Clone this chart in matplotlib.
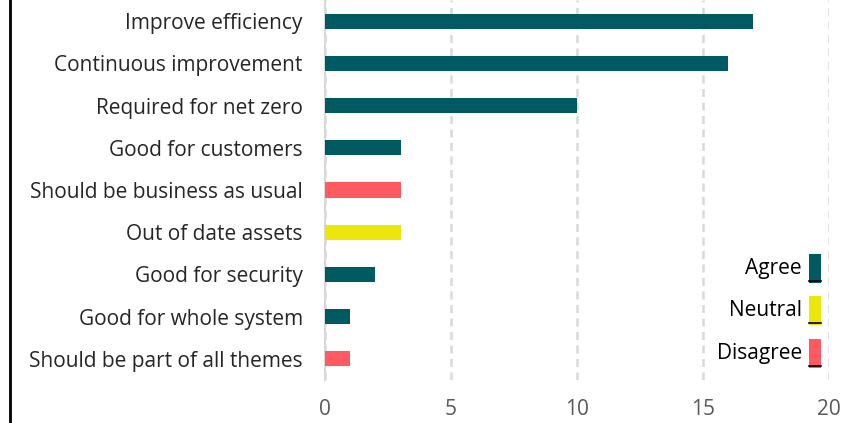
import matplotlib
matplotlib.use("Agg")
import matplotlib.pyplot as plt
from matplotlib.patches import Rectangle
from matplotlib.lines import Line2D

categories = ["Improve efficiency", "Continuous improvement", "Required for net zero",
              "Good for customers", "Should be business as usual", "Out of date assets",
              "Good for security", "Good for whole system", "Should be part of all themes"]
values = [17, 16, 10, 3, 3, 3, 2, 1, 1]
sentiment = ["Agree", "Agree", "Agree", "Agree", "Disagree", "Neutral", "Agree", "Agree", "Disagree"]
legend_labels = ["Agree", "Neutral", "Disagree"]
xticks = [0, 5, 10, 15, 20]

colors = {"Agree": "#005A62", "Neutral": "#ECE60B", "Disagree": "#FF5A60"}

plt.rcParams['font.family'] = ['Open Sans', 'DejaVu Sans']
FS = 15

fig = plt.figure(figsize=(8.61, 4.23), dpi=100)
ax = fig.add_axes([325/861, 1 - 380/423, (829-325)/861, 380/423])

ypos = list(range(len(categories)))
ax.barh(ypos, values, height=0.36, color=[colors[s] for s in sentiment], zorder=3)
ax.set_ylim(len(categories) - 0.5, -0.5)
ax.set_xlim(0, 20)
ax.set_yticks(ypos)
ax.set_yticklabels(categories, fontsize=FS, color="#262626")
ax.set_xticks(xticks)
ax.set_xticklabels([str(t) for t in xticks], fontsize=FS, color="#595959")
ax.tick_params(axis='y', length=0, pad=16)
ax.tick_params(axis='x', length=0, pad=14)
for s in ["top", "right", "bottom"]:
    ax.spines[s].set_visible(False)
ax.spines["left"].set_color("#D9D9D9")
ax.spines["left"].set_linewidth(1.5)
ax.xaxis.grid(True, color="#D9D9D9", linestyle=(0, (3.2, 2.2)), linewidth=1.8, zorder=0)
ax.set_axisbelow(True)

# custom legend
leg_y = [268, 311, 353]
for lab, yc in zip(legend_labels, leg_y):
    x0 = 809 / 861
    w = 12 / 861
    h = 29 / 423
    yb = 1 - (yc + 14.5) / 423
    fig.patches.append(Rectangle((x0, yb), w, h, transform=fig.transFigure,
                                 facecolor=colors[lab], edgecolor="none", zorder=5))
    fig.lines.append(Line2D([x0, x0 + w], [yb + 2/423, yb + 2/423], transform=fig.transFigure,
                            color="black", linewidth=1.2, zorder=6))
    fig.text(802 / 861, 1 - yc / 423, lab, ha="right", va="center", fontsize=FS, color="#000000")

# left border line
fig.lines.append(Line2D([10/861, 10/861], [0, 1], transform=fig.transFigure, color="black", linewidth=2))

fig.savefig("out.png", dpi=100)
